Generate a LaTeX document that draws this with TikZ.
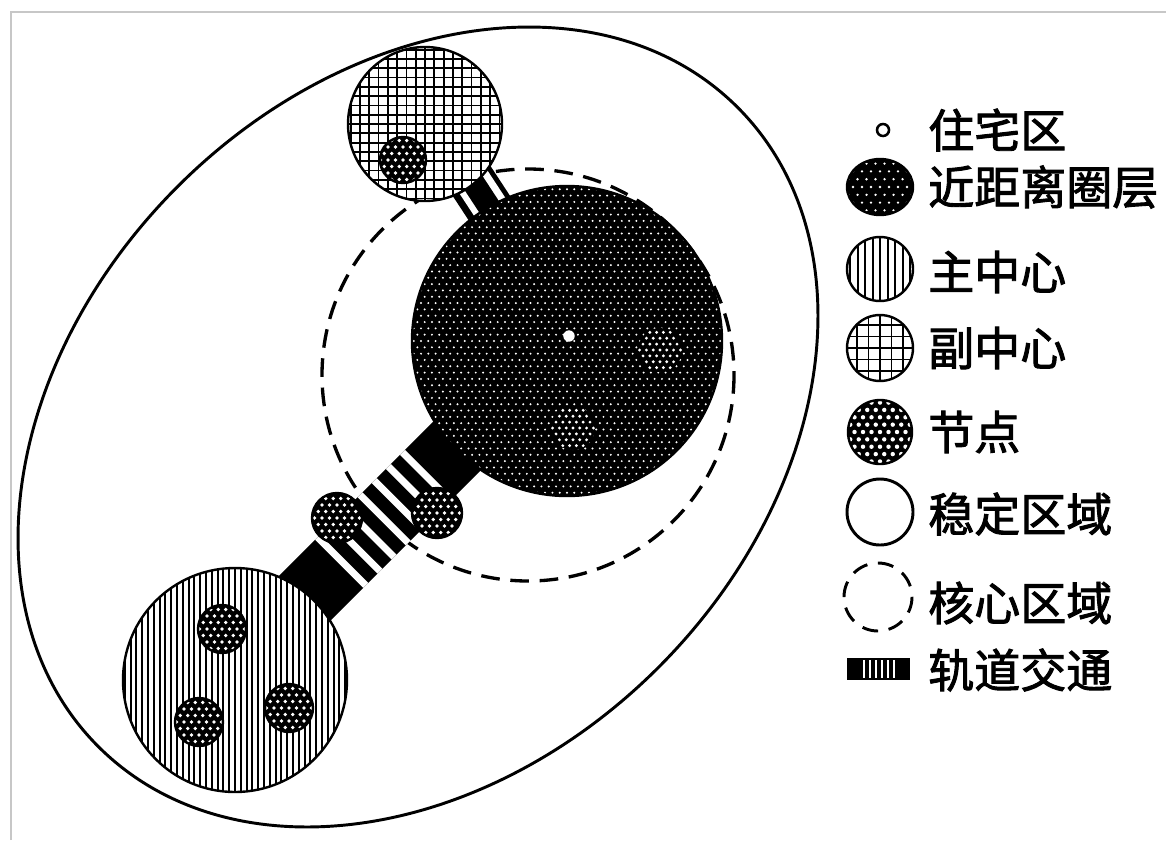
\documentclass[tikz,border=0pt]{standalone}
\usepackage{fontspec}
\newfontfamily\cjk[FakeBold=2]{Noto Sans CJK SC}
\definecolor{framegray}{gray}{0.78}
% cx cy rx ry pitch dotradius : black disc with white dots (no outline)
\newcommand\DotDisc[6]{%
  \begin{scope}
    \clip (#1,#2) ellipse[x radius=#3, y radius=#4];
    \fill[black] (#1,#2) ellipse[x radius=#3, y radius=#4];
    \pgfmathtruncatemacro\ni{#3/#5+1}
    \pgfmathtruncatemacro\nim{-\ni}
    \pgfmathtruncatemacro\nj{#4/(#5*0.866)+1}
    \pgfmathtruncatemacro\njm{-\nj}
    \foreach \i in {\nim,...,\ni}{
      \foreach \j in {\njm,...,\nj}{
        \fill[white] ({#1+(\i+0.5*mod(abs(\j),2))*#5},{#2+\j*#5*0.866}) circle[radius=#6];
      }
    }
  \end{scope}}
% cx cy rx ry pitch linewidth : vertical hatching
\newcommand\LineDisc[6]{%
  \begin{scope}
    \clip (#1,#2) ellipse[x radius=#3, y radius=#4];
    \fill[white] (#1,#2) ellipse[x radius=#3, y radius=#4];
    \pgfmathtruncatemacro\ni{#3/#5+1}
    \pgfmathtruncatemacro\nim{-\ni}
    \foreach \i in {\nim,...,\ni}{
      \draw[line width=#6] ({#1+\i*#5},{#2-#4}) -- ({#1+\i*#5},{#2+#4});
    }
  \end{scope}
  \draw[ring] (#1,#2) ellipse[x radius=#3, y radius=#4];}
% cx cy rx ry pitch linewidth : grid hatching
\newcommand\GridDisc[6]{%
  \begin{scope}
    \clip (#1,#2) ellipse[x radius=#3, y radius=#4];
    \fill[white] (#1,#2) ellipse[x radius=#3, y radius=#4];
    \pgfmathtruncatemacro\ni{#3/#5+1}
    \pgfmathtruncatemacro\nim{-\ni}
    \foreach \i in {\nim,...,\ni}{
      \draw[line width=#6] ({#1+\i*#5},{#2-#4}) -- ({#1+\i*#5},{#2+#4});
      \draw[line width=#6] ({#1-#3},{#2+\i*#5}) -- ({#1+#3},{#2+\i*#5});
    }
  \end{scope}
  \draw[ring] (#1,#2) ellipse[x radius=#3, y radius=#4];}
\newcommand\NodeDisc[3]{%
  \DotDisc{#1}{#2}{#3}{#3}{7.5}{1.8}
  \draw[ring] (#1,#2) circle[radius=#3];}
\begin{document}
\begin{tikzpicture}[x=0.75pt,y=-0.75pt,
  ring/.style={line width=1.8pt},
  lbl/.style={anchor=west, inner sep=0pt, font=\cjk\fontsize{34.5pt}{40pt}\selectfont},
  corezone/.style={line width=2.5pt, dash pattern=on 14pt off 8pt}]
\useasboundingbox (0,0) rectangle (1166,840);
\draw[framegray, line width=1.5pt] (11,840) -- (11,12) -- (1166,12);

% stable region
\draw[line width=2.2pt, rotate around={45:(418,427)}] (418,427) ellipse[x radius=452, y radius=340];
% core region
\draw[corezone] (528,375) circle[radius=206];

% rail between main centre and near ring
\begin{scope}[shift={(335,568)}, rotate=45]
  \fill (-75,-34) rectangle (185,34);
  \foreach \a in {6,26,...,126}{\fill[white] (\a,-34) rectangle ({\a+7},34);}
\end{scope}
% rail between sub centre and near ring
\begin{scope}[shift={(474.5,200)}, rotate=-56.8]
  \fill (-25,-32) rectangle (25,16);
  \fill[white] (-20,3) rectangle (20,9);
  \fill[white] (-20,-27) rectangle (20,-20);
\end{scope}

% main centre
\LineDisc{235}{680}{112}{112}{5.8}{1.6pt}
% sub centre
\GridDisc{425}{124}{77}{77}{9.3}{1.35pt}
% near-distance ring
\DotDisc{567}{341}{155}{155}{7.3}{1.1}
\draw[ring] (567,341) circle[radius=155];
\DotDisc{660}{350}{22}{22}{6.8}{1.6}
\DotDisc{573}{428}{22}{22}{6.8}{1.6}
\fill[white] (569,336) circle[radius=5.7];

% nodes
\NodeDisc{403}{160}{23}
\NodeDisc{337}{518}{25}
\NodeDisc{437}{513}{25}
\NodeDisc{222}{629}{24}
\NodeDisc{199}{722}{24}
\NodeDisc{289}{708}{24}

% legend symbols
\filldraw[fill=white, line width=1.9pt] (883,130) circle[radius=6];
\DotDisc{880}{187}{33}{28}{9}{1.3}
\draw[ring] (880,187) ellipse[x radius=33, y radius=28];
\LineDisc{880}{269}{33}{32}{7.5}{1.5pt}
\GridDisc{880}{348}{33}{33}{11.5}{1.3pt}
\DotDisc{880}{432}{32}{32}{8.5}{2.2}
\draw[ring] (880,432) circle[radius=32];
\draw[line width=2.2pt] (880,512) circle[radius=33];
\draw[line width=2.2pt, dash pattern=on 12pt off 8pt] (878,597) circle[radius=34];
\fill (847,658) rectangle (910,680);
\foreach \x in {862.5,868.5,874.5,880.5,886.5,892.5}{\fill[white] (\x,660) rectangle ({\x+2.2},678);}

% legend texts
\node[lbl] (t1) at (928,130) {住宅区};
\node[lbl] (t2) at (928,187) {近距离圈层};
\node[lbl] (t3) at (928,272) {主中心};
\node[lbl] (t4) at (928,348) {副中心};
\node[lbl] (t5) at (928,432) {节点};
\node[lbl] (t6) at (928,514) {稳定区域};
\node[lbl] (t7) at (928,603) {核心区域};
\node[lbl] (t8) at (928,670) {轨道交通};
\end{tikzpicture}
\end{document}
